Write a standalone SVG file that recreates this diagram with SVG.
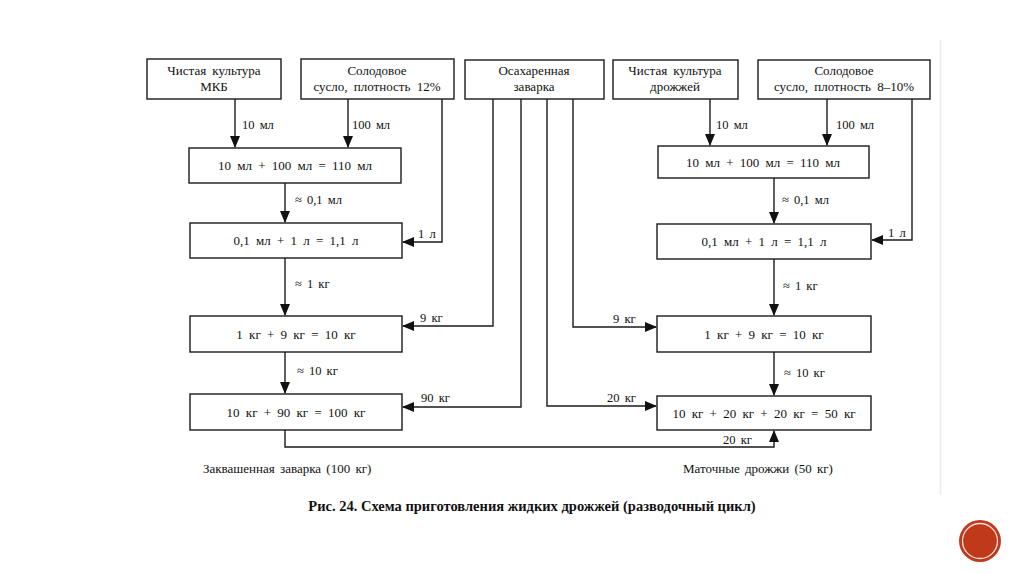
<svg xmlns="http://www.w3.org/2000/svg" width="1024" height="574" viewBox="0 0 1024 574">
<style>
.box{fill:#fff;stroke:#1a1a1a;stroke-width:1.4}
.t{font-family:"Liberation Serif","DejaVu Serif",serif;font-size:13px;fill:#111;text-anchor:middle;word-spacing:3px}
.l{font-family:"Liberation Serif","DejaVu Serif",serif;font-size:12.5px;fill:#111;word-spacing:2px}
.c{fill:none;stroke:#1a1a1a;stroke-width:1.4}
.cap{font-family:"Liberation Serif","DejaVu Serif",serif;font-size:14.5px;font-weight:bold;fill:#111;text-anchor:middle}
</style>
<defs>
<marker id="ah" markerUnits="userSpaceOnUse" markerWidth="12" markerHeight="10" refX="11" refY="5" orient="auto">
<path d="M0,0 L12,5 L0,10 Z" fill="#111"/>
</marker>
</defs>
<rect width="1024" height="574" fill="#fff"/>
<line x1="940.5" y1="40" x2="940.5" y2="495" stroke="#ececec" stroke-width="1.5"/>

<g id="connectors">
<path class="c" d="M235,99 V147" marker-end="url(#ah)"/>
<path class="c" d="M348,99 V147" marker-end="url(#ah)"/>
<path class="c" d="M442,99 V242 H403" marker-end="url(#ah)"/>
<path class="c" d="M285,183 V222" marker-end="url(#ah)"/>
<path class="c" d="M285,258 V315" marker-end="url(#ah)"/>
<path class="c" d="M285,352 V393" marker-end="url(#ah)"/>
<path class="c" d="M493,99 V326 H403" marker-end="url(#ah)"/>
<path class="c" d="M521,99 V407 H403" marker-end="url(#ah)"/>
<path class="c" d="M547,99 V406 H656" marker-end="url(#ah)"/>
<path class="c" d="M573,99 V327 H656" marker-end="url(#ah)"/>
<path class="c" d="M285,430 V447 H774 V431" marker-end="url(#ah)"/>
<path class="c" d="M710,99 V145" marker-end="url(#ah)"/>
<path class="c" d="M827,99 V145" marker-end="url(#ah)"/>
<path class="c" d="M912,99 V240 H872" marker-end="url(#ah)"/>
<path class="c" d="M774,178 V223" marker-end="url(#ah)"/>
<path class="c" d="M774,259 V315" marker-end="url(#ah)"/>
<path class="c" d="M774,352 V395" marker-end="url(#ah)"/>
<text class="l" x="242" y="129">10 мл</text>
<text class="l" x="352" y="129">100 мл</text>
<text class="l" x="418" y="238">1 л</text>
<text class="l" x="295" y="204">≈ 0,1 мл</text>
<text class="l" x="295" y="288">≈ 1 кг</text>
<text class="l" x="297" y="375">≈ 10 кг</text>
<text class="l" x="420" y="322">9 кг</text>
<text class="l" x="421" y="402">90 кг</text>
<text class="l" x="607" y="402">20 кг</text>
<text class="l" x="613" y="323">9 кг</text>
<text class="l" x="723" y="444">20 кг</text>
<text class="l" x="716" y="129">10 мл</text>
<text class="l" x="836" y="129">100 мл</text>
<text class="l" x="888" y="237">1 л</text>
<text class="l" x="782" y="204">≈ 0,1 мл</text>
<text class="l" x="783" y="290">≈ 1 кг</text>
<text class="l" x="784" y="377">≈ 10 кг</text>
</g>

<g id="n-mkb">
<rect class="box" x="147" y="59" width="134" height="40"/>
<text class="t" x="214" y="75">Чистая культура</text>
<text class="t" x="214" y="91">МКБ</text>
</g>
<g id="n-sus12">
<rect class="box" x="301" y="59" width="153" height="40"/>
<text class="t" x="377" y="75">Солодовое</text>
<text class="t" x="377" y="91">сусло, плотность 12%</text>
</g>
<g id="n-zavarka">
<rect class="box" x="465" y="60" width="139" height="39"/>
<text class="t" x="534" y="75">Осахаренная</text>
<text class="t" x="534" y="91">заварка</text>
</g>
<g id="n-drozhzhi">
<rect class="box" x="613" y="60" width="125" height="39"/>
<text class="t" x="675" y="75">Чистая культура</text>
<text class="t" x="675" y="91">дрожжей</text>
</g>
<g id="n-sus810">
<rect class="box" x="758" y="60" width="172" height="39"/>
<text class="t" x="844" y="75">Солодовое</text>
<text class="t" x="844" y="91">сусло, плотность 8–10%</text>
</g>

<g id="n-l1">
<rect class="box" x="189" y="148" width="212" height="35"/>
<text class="t" x="295" y="170">10 мл + 100 мл = 110 мл</text>
</g>
<g id="n-l2">
<rect class="box" x="190" y="223" width="212" height="35"/>
<text class="t" x="296" y="245">0,1 мл + 1 л = 1,1 л</text>
</g>
<g id="n-l3">
<rect class="box" x="190" y="316" width="212" height="36"/>
<text class="t" x="296" y="339">1 кг + 9 кг = 10 кг</text>
</g>
<g id="n-l4">
<rect class="box" x="190" y="394" width="212" height="36"/>
<text class="t" x="296" y="417">10 кг + 90 кг = 100 кг</text>
</g>

<g id="n-r1">
<rect class="box" x="658" y="146" width="211" height="32"/>
<text class="t" x="763" y="167">10 мл + 100 мл = 110 мл</text>
</g>
<g id="n-r2">
<rect class="box" x="657" y="224" width="214" height="35"/>
<text class="t" x="764" y="246">0,1 мл + 1 л = 1,1 л</text>
</g>
<g id="n-r3">
<rect class="box" x="657" y="316" width="214" height="36"/>
<text class="t" x="764" y="339">1 кг + 9 кг = 10 кг</text>
</g>
<g id="n-r4">
<rect class="box" x="657" y="396" width="214" height="34"/>
<text class="t" x="764" y="418">10 кг + 20 кг + 20 кг = 50 кг</text>
</g>

<text class="l" x="203" y="473" style="font-size:13px">Заквашенная заварка (100 кг)</text>
<text class="l" x="683" y="473" style="font-size:13px">Маточные дрожжи (50 кг)</text>
<text class="cap" x="532" y="511">Рис. 24. Схема приготовления жидких дрожжей (разводочный цикл)</text>

<circle cx="980" cy="541" r="21" fill="#c0391b"/>
<circle cx="980" cy="541" r="17.5" fill="none" stroke="#f3e0d8" stroke-width="1.3"/>
</svg>
